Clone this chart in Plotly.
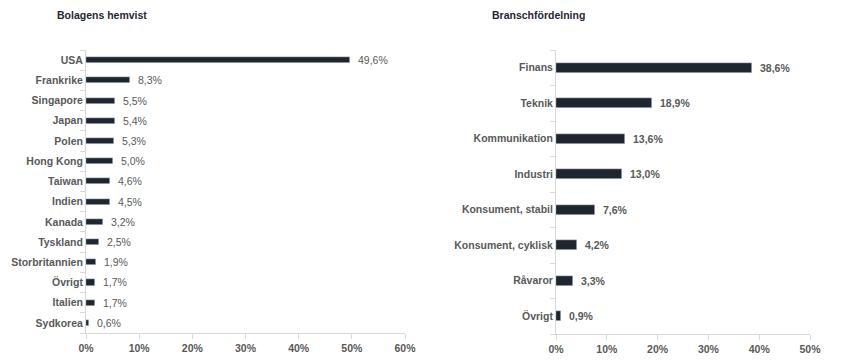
import plotly.graph_objects as go

# Left chart: Bolagens hemvist
countries = ["USA", "Frankrike", "Singapore", "Japan", "Polen", "Hong Kong", "Taiwan",
             "Indien", "Kanada", "Tyskland", "Storbritannien", "Övrigt", "Italien", "Sydkorea"]
country_vals = [49.6, 8.3, 5.5, 5.4, 5.3, 5.0, 4.6, 4.5, 3.2, 2.5, 1.9, 1.7, 1.7, 0.6]

# Right chart: Branschfördelning
sectors = ["Finans", "Teknik", "Kommunikation", "Industri", "Konsument, stabil",
           "Konsument, cyklisk", "Råvaror", "Övrigt"]
sector_vals = [38.6, 18.9, 13.6, 13.0, 7.6, 4.2, 3.3, 0.9]

left_ticks = [0, 10, 20, 30, 40, 50, 60]
right_ticks = [0, 10, 20, 30, 40, 50]

BAR = "#1f2630"
AXIS = "#d9d9d9"
TXT = "#595959"
FONT = "Liberation Sans, Arial, sans-serif"

# the page body has an 8px margin; the figure is sized to fit the window
OFF = 8
W, H = 845 - OFF, 360 - OFF


def px(x):
    return (x - OFF) / W


def py(y):
    return 1 - (y - OFF) / H


def fmt(v):
    return f"{v:.1f}".replace(".", ",") + "%"


fig = go.Figure()
fig.add_trace(go.Bar(x=country_vals, y=countries, orientation="h", marker_color=BAR,
                     width=0.3, xaxis="x", yaxis="y", hoverinfo="skip"))
fig.add_trace(go.Bar(x=sector_vals, y=sectors, orientation="h", marker_color=BAR,
                     width=0.29, xaxis="x2", yaxis="y2", hoverinfo="skip"))

annotations = []
for c, v in zip(countries, country_vals):
    annotations.append(dict(x=v, y=c, xref="x", yref="y", text=fmt(v), showarrow=False,
                            xanchor="left", xshift=6,
                            font=dict(family=FONT, size=10.5, color=TXT)))
for s, v in zip(sectors, sector_vals):
    annotations.append(dict(x=v, y=s, xref="x2", yref="y2", text="<b>" + fmt(v) + "</b>",
                            showarrow=False, xanchor="left", xshift=6,
                            font=dict(family=FONT, size=10.5, color=TXT)))

annotations.append(dict(x=px(55), y=py(15), xref="paper", yref="paper",
                        text="<b>Bolagens hemvist</b>", showarrow=False, xanchor="left",
                        yanchor="middle", font=dict(family=FONT, size=10.5, color="#1f2733")))
annotations.append(dict(x=px(490), y=py(15), xref="paper", yref="paper",
                        text="<b>Branschfördelning</b>", showarrow=False, xanchor="left",
                        yanchor="middle", font=dict(family=FONT, size=10.5, color="#1f2733")))

xcommon = dict(showgrid=False, zeroline=False, showline=True, linecolor=AXIS, linewidth=1,
               ticks="outside", ticklen=5, tickcolor=AXIS, automargin=False,
               tickfont=dict(family=FONT, size=10.5, color=TXT))
ycommon = dict(showgrid=False, zeroline=False, showline=True, linecolor=AXIS, linewidth=1,
               ticks="outside", ticklen=5, tickcolor=AXIS, tickson="boundaries",
               autorange="reversed", type="category", automargin=False,
               tickfont=dict(family=FONT, size=10.5, color=TXT))

fig.update_layout(
    width=W, height=H,
    margin=dict(l=0, r=0, t=0, b=0, pad=0),
    paper_bgcolor="white", plot_bgcolor="white",
    showlegend=False, bargap=0,
    xaxis=dict(domain=[px(86), px(405)], range=[0, 60], tickvals=left_ticks,
               ticktext=[f"<b>{t}%</b>" for t in left_ticks], anchor="y", **xcommon),
    yaxis=dict(domain=[py(333), py(50)], anchor="x",
               tickvals=countries, ticktext=[f"<b>{c}</b>" for c in countries], **ycommon),
    xaxis2=dict(domain=[px(556), px(810)], range=[0, 50], tickvals=right_ticks,
                ticktext=[f"<b>{t}%</b>" for t in right_ticks], anchor="y2", **xcommon),
    yaxis2=dict(domain=[py(334), py(50)], anchor="x2",
                tickvals=sectors, ticktext=[f"<b>{s}</b>" for s in sectors], **ycommon),
    annotations=annotations,
)

fig.write_html("out.html")
